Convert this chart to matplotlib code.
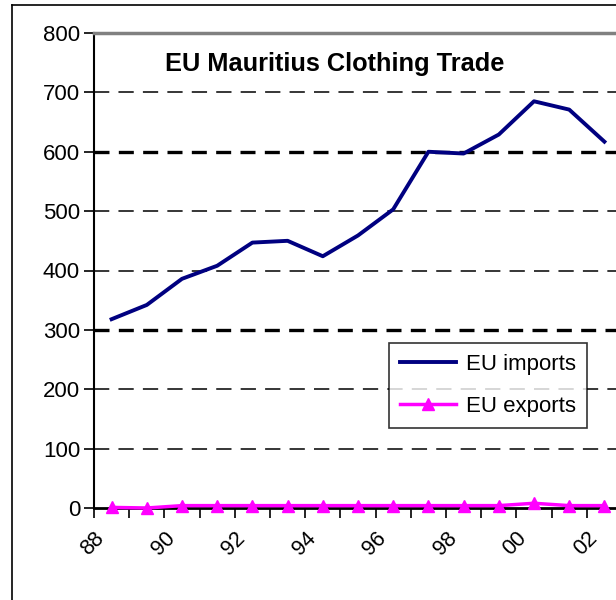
import numpy as np
import matplotlib
matplotlib.use("Agg")
import matplotlib.pyplot as plt
from matplotlib.lines import Line2D

# chart data
years = ["88", "89", "90", "91", "92", "93", "94", "95", "96", "97", "98", "99", "00", "01", "02"]
eu_imports = [318, 342, 386, 408, 447, 450, 424, 459, 503, 600, 597, 629, 685, 671, 617]
eu_exports = [1, 0, 4, 4, 4, 4, 4, 4, 4, 4, 4, 4, 8, 4, 4]

plt.rcParams['font.family'] = ['Liberation Sans', 'DejaVu Sans']

fig = plt.figure(figsize=(6.16, 6.0), dpi=100)
ax = fig.add_axes([94 / 616, 1 - 508 / 600, 528 / 616, 475 / 600])

x = np.arange(len(years))

# dashed gridlines, two of them heavier like in the scan
for v in [100, 200, 300, 400, 500, 600, 700]:
    if v in (300, 600):
        ax.axhline(v, color="black", lw=2.4, ls=(0, (4.5, 2.8)), zorder=1)
    else:
        ax.axhline(v, color="black", lw=1.1, ls=(0, (10, 6)), zorder=1)

ax.plot(x, eu_imports, color="#000080", lw=2.8, label="EU imports", zorder=3)
ax.plot(x, eu_exports, color="#FF00FF", lw=2.5, marker="^", ms=9,
        label="EU exports", zorder=3, clip_on=False)

ax.set_xlim(-0.5, len(years) - 0.5)
ax.set_ylim(0, 800)
ax.set_yticks(range(0, 801, 100))
ax.tick_params(axis="y", labelsize=16, length=7, width=1.2, pad=3)

# category boundaries as ticks, labels every other category
bounds = np.arange(len(years) + 1) - 0.5
ax.set_xticks(bounds)
labels = []
for i in range(len(bounds)):
    if i < len(years) and i % 2 == 0:
        labels.append(years[i])
    else:
        labels.append("")
ax.set_xticklabels(labels, rotation=45, ha="right", rotation_mode="anchor", fontsize=15.5)
ax.tick_params(axis="x", length=7, width=1.2, pad=7)

ax.spines["top"].set_color("#808080")
ax.spines["top"].set_linewidth(2.5)
ax.spines["right"].set_visible(False)
ax.spines["left"].set_linewidth(1.5)
ax.spines["bottom"].set_linewidth(2)

leg = ax.legend(loc="upper left", bbox_to_anchor=((389 - 94) / 528, (508 - 343) / 475),
                borderaxespad=0, fontsize=16, frameon=True, fancybox=False,
                edgecolor="black", handlelength=2.5, borderpad=0.5, labelspacing=0.95,
                handletextpad=0.45)
leg.get_frame().set_linewidth(1.2)

fig.text(335 / 616, 1 - 64 / 600, "EU Mauritius Clothing Trade", fontsize=18.3,
         fontweight="bold", ha="center", va="center")

# outer chart border (cropped on the right and bottom)
fig.add_artist(Line2D([12 / 616, 1], [1 - 5 / 600, 1 - 5 / 600], color="black", lw=1.2,
                      transform=fig.transFigure))
fig.add_artist(Line2D([12 / 616, 12 / 616], [0, 1 - 5 / 600], color="black", lw=1.2,
                      transform=fig.transFigure))

fig.savefig("out.png", dpi=100)
